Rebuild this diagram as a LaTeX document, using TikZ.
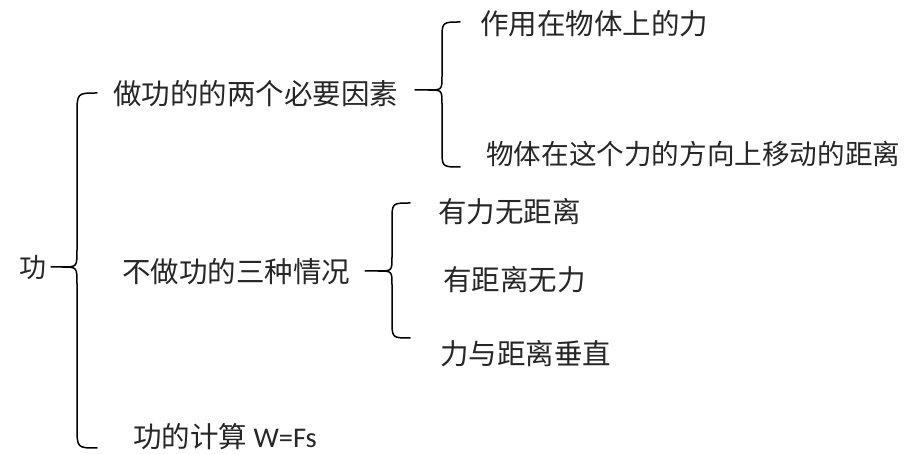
\documentclass[tikz,border=0pt]{standalone}
\usepackage{fontspec}
\setmainfont{Carlito}
\newfontfamily\cjk{Noto Sans CJK SC}
\begin{document}
\begin{tikzpicture}[x=1pt,y=-1pt]
\tikzset{lbl/.style={anchor=west,inner sep=0pt,font=\cjk\fontsize{28.5}{32}\selectfont,text=black!85},
brace/.style={line width=1.5pt,line join=round,line cap=round}}
\useasboundingbox (0,0) rectangle (906,454);
% texts
\node[lbl,font=\cjk\fontsize{27}{32}\selectfont] (gong) at (19,267) {功};
\node[lbl] (a) at (113,94) {做功的的两个必要因素};
\node[lbl] (a1) at (480,24) {作用在物体上的力};
\node[lbl,font=\cjk\fontsize{27.6}{32}\selectfont] (a2) at (486,154) {物体在这个力的方向上移动的距离};
\node[lbl] (b) at (122,272) {不做功的三种情况};
\node[lbl] (b1) at (438,212) {有力无距离};
\node[lbl] (b2) at (443,280) {有距离无力};
\node[lbl] (b3) at (440,354) {力与距离垂直};
\node[lbl] (c) at (133,437) {功的计算 {\fontspec{Carlito}W=Fs}};
% brace 1
\draw[brace] (97,93) .. controls (77,93) .. (77,115) -- (77,250)
  .. controls (77,267) .. (62,267) -- (51,267);
\draw[brace] (62,267) .. controls (77,267) .. (77,284) -- (77,426)
  .. controls (77,448) .. (97,448);
% brace 2
\draw[brace] (460,22) .. controls (442,22) .. (442,40) -- (442,76)
  .. controls (442,90) .. (428,90) -- (415,90);
\draw[brace] (428,90) .. controls (442,90) .. (442,104) -- (442,149)
  .. controls (442,167) .. (460,167);
% brace 3
\draw[brace] (410,203) .. controls (392,203) .. (392,221) -- (392,257)
  .. controls (392,271) .. (378,271) -- (365,271);
\draw[brace] (378,271) .. controls (392,271) .. (392,285) -- (392,320)
  .. controls (392,338) .. (410,338);
\end{tikzpicture}
\end{document}
